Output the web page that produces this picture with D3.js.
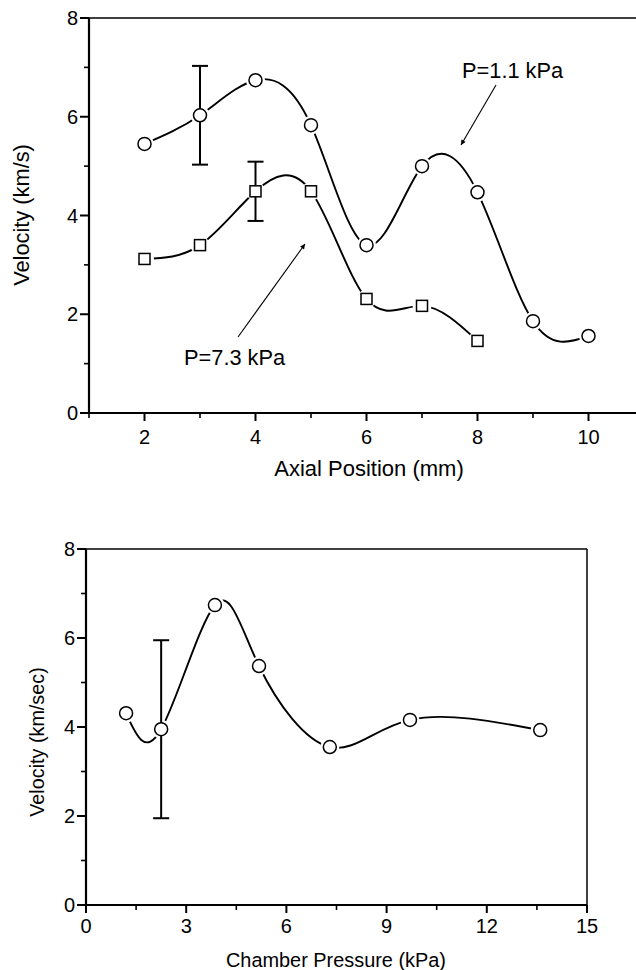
<!DOCTYPE html>
<html><head><meta charset="utf-8">
<script src="https://cdn.jsdelivr.net/npm/d3@7"></script>
<style>body{margin:0;background:#fff}svg{display:block}text{font-family:"Liberation Sans",Arial,sans-serif;fill:#000}</style>
</head><body>
<script>
// Top chart data
const axialPos = [2,3,4,5,6,7,8,9,10];
const velLow = [5.45,6.03,6.74,5.83,3.40,5.00,4.47,1.86,1.56];   // P=1.1 kPa
const axialPosHigh = [2,3,4,5,6,7,8];
const velHigh = [3.12,3.40,4.49,4.49,2.31,2.17,1.46];             // P=7.3 kPa
const errLow = [{x:3,y:6.03,e:1.0}];
const errHigh = [{x:4,y:4.49,e:0.6}];
const topXTicks = [2,4,6,8,10];
const topYTicks = [0,2,4,6,8];
// Bottom chart data
const pressure = [1.2,2.25,3.86,5.18,7.3,9.7,13.6];
const velP = [4.31,3.95,6.74,5.37,3.55,4.16,3.93];
const errP = [{x:2.25,y:3.95,e:2.0}];
const botXTicks = [0,3,6,9,12,15];
const botYTicks = [0,2,4,6,8];

const svg = d3.select("body").append("svg").attr("width",636).attr("height",970);

function drawAxes(g, x, y, xt, yt, xMinor, yMinor, box, fs, xLabOff) {
  const [x0,x1] = x.range(), [y0,y1] = y.range();
  g.append("line").attr("x1",x0-9).attr("x2",box?x1:636).attr("y1",y0).attr("y2",y0).attr("stroke","#000").attr("stroke-width",2.2);
  g.append("line").attr("x1",x0).attr("x2",x0).attr("y1",y0).attr("y2",y1).attr("stroke","#000").attr("stroke-width",2.2);
  g.append("line").attr("x1",x0-9).attr("x2",box?x1:636).attr("y1",y1).attr("y2",y1).attr("stroke","#000").attr("stroke-width",1.5);
  if (box) g.append("line").attr("x1",x1).attr("x2",x1).attr("y1",y1).attr("y2",y0).attr("stroke","#000").attr("stroke-width",1.5);
  xt.forEach(v=>{
    g.append("line").attr("x1",x(v)).attr("x2",x(v)).attr("y1",y0).attr("y2",y0+8).attr("stroke","#000").attr("stroke-width",2);
    g.append("text").attr("x",x(v)).attr("y",y0+xLabOff).attr("text-anchor","middle").attr("font-size",fs).text(v);
  });
  xMinor.forEach(v=>{
    g.append("line").attr("x1",x(v)).attr("x2",x(v)).attr("y1",y0).attr("y2",y0+5).attr("stroke","#000").attr("stroke-width",1.6);
  });
  yt.forEach(v=>{
    g.append("line").attr("x1",x0-9).attr("x2",x0).attr("y1",y(v)).attr("y2",y(v)).attr("stroke","#000").attr("stroke-width",2);
    g.append("text").attr("x",x0-11).attr("y",y(v)+7).attr("text-anchor","end").attr("font-size",fs).text(v);
  });
  yMinor.forEach(v=>{
    g.append("line").attr("x1",x0-5).attr("x2",x0).attr("y1",y(v)).attr("y2",y(v)).attr("stroke","#000").attr("stroke-width",1.6);
  });
}

function drawSeries(g, x, y, xs, ys, errs, shape) {
  const pts = xs.map((v,i)=>[v,ys[i]]);
  const line = d3.line().x(d=>x(d[0])).y(d=>y(d[1])).curve(d3.curveNatural);
  g.append("path").attr("d",line(pts)).attr("fill","none").attr("stroke","#000").attr("stroke-width",1.9);
  pts.forEach(p=>{
    g.append("circle").attr("cx",x(p[0])).attr("cy",y(p[1])).attr("r",9.5).attr("fill","#fff");
  });
  errs.forEach(e=>{
    const cx=x(e.x);
    g.append("line").attr("x1",cx).attr("x2",cx).attr("y1",y(e.y+e.e)).attr("y2",y(e.y-e.e)).attr("stroke","#000").attr("stroke-width",2);
    [e.y+e.e,e.y-e.e].forEach(v=>g.append("line").attr("x1",cx-8).attr("x2",cx+8).attr("y1",y(v)).attr("y2",y(v)).attr("stroke","#000").attr("stroke-width",2));
  });
  pts.forEach(p=>{
    if (shape==="circle")
      g.append("circle").attr("cx",x(p[0])).attr("cy",y(p[1])).attr("r",6.5).attr("fill","#fff").attr("stroke","#000").attr("stroke-width",1.5);
    else
      g.append("rect").attr("x",x(p[0])-5.5).attr("y",y(p[1])-5.5).attr("width",11).attr("height",11).attr("fill","#fff").attr("stroke","#000").attr("stroke-width",1.5);
  });
}

svg.append("defs").append("marker").attr("id","ah").attr("viewBox","0 0 10 10").attr("refX",10).attr("refY",5)
  .attr("markerWidth",7).attr("markerHeight",5).attr("orient","auto").attr("markerUnits","userSpaceOnUse")
  .append("path").attr("d","M0,0 L10,5 L0,10 Z").attr("fill","#000");

// ---- Top chart
const g1 = svg.append("g");
const x1 = d3.scaleLinear().domain([1,11]).range([89,644]);
const y1 = d3.scaleLinear().domain([0,8]).range([413,18]);
drawAxes(g1,x1,y1,topXTicks,topYTicks,[1,3,5,7,9],[1,3,5,7],false,20,31);
drawSeries(g1,x1,y1,axialPos,velLow,errLow,"circle");
drawSeries(g1,x1,y1,axialPosHigh,velHigh,errHigh,"square");
g1.append("text").attr("x",462).attr("y",78).attr("font-size",21.8).text("P=1.1 kPa");
g1.append("line").attr("x1",496).attr("y1",85).attr("x2",461).attr("y2",145).attr("stroke","#000").attr("stroke-width",1.1).attr("marker-end","url(#ah)");
g1.append("text").attr("x",184).attr("y",365).attr("font-size",21.8).text("P=7.3 kPa");
g1.append("line").attr("x1",238).attr("y1",337).attr("x2",305).attr("y2",244).attr("stroke","#000").attr("stroke-width",1.1).attr("marker-end","url(#ah)");
g1.append("text").attr("transform","translate(29,215) rotate(-90)").attr("text-anchor","middle").attr("font-size",21.8).text("Velocity (km/s)");
g1.append("text").attr("x",369).attr("y",476).attr("text-anchor","middle").attr("font-size",22).text("Axial Position (mm)");

// ---- Bottom chart
const g2 = svg.append("g");
const x2 = d3.scaleLinear().domain([0,15]).range([86,587]);
const y2 = d3.scaleLinear().domain([0,8]).range([905,549]);
drawAxes(g2,x2,y2,botXTicks,botYTicks,[1.5,4.5,7.5,10.5,13.5],[1,3,5,7],true,20,28);
drawSeries(g2,x2,y2,pressure,velP,errP,"circle");
g2.append("text").attr("transform","translate(44,742) rotate(-90)").attr("text-anchor","middle").attr("font-size",19.8).text("Velocity (km/sec)");
g2.append("text").attr("x",336).attr("y",967).attr("text-anchor","middle").attr("font-size",19.9).text("Chamber Pressure (kPa)");
</script>
</body></html>
